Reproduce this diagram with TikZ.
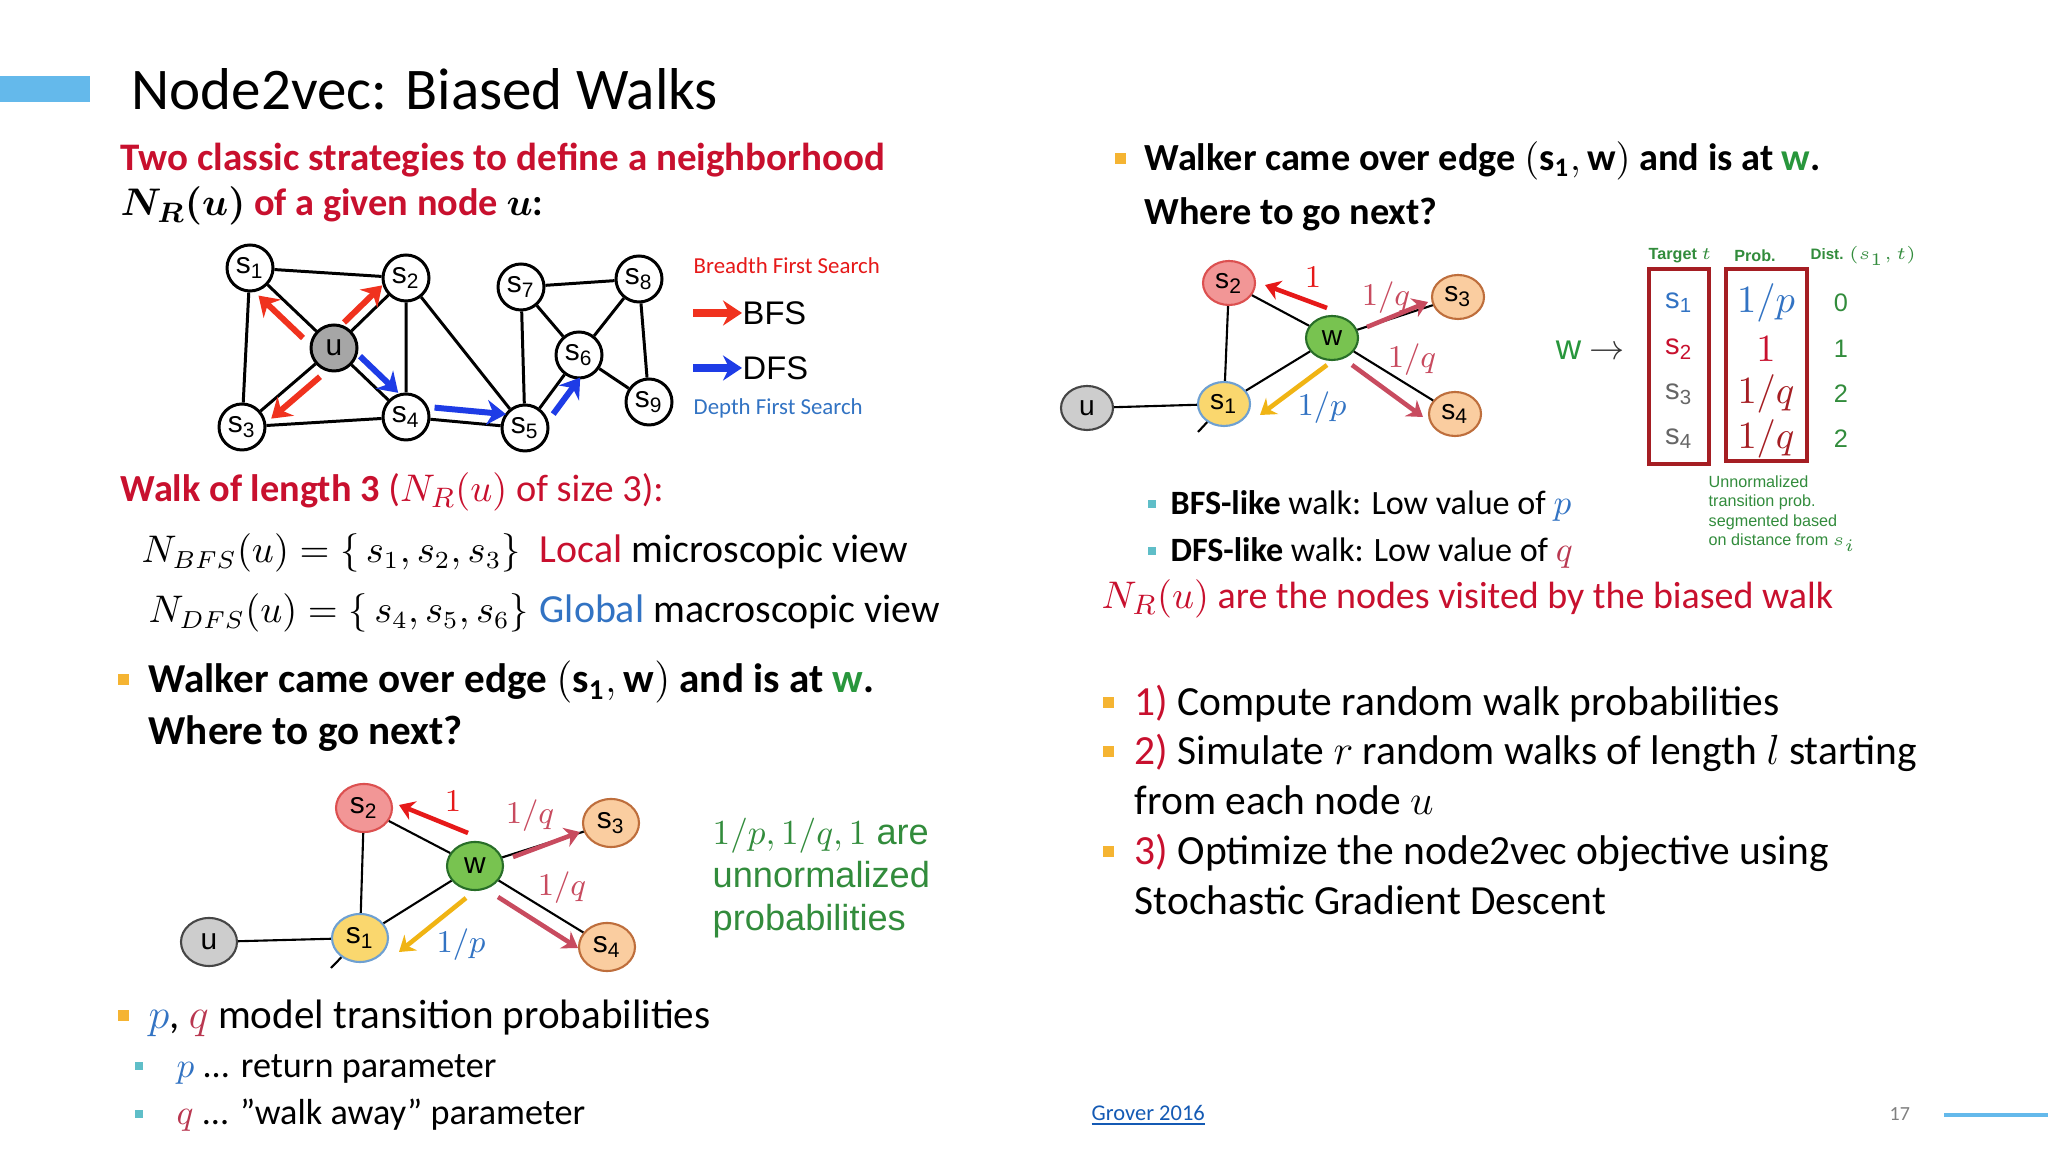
\documentclass[tikz,border=0pt]{standalone}
\usepackage{fontspec}
\usepackage{amsmath,bm}
\setmainfont{Carlito}
\newfontfamily\arial{Liberation Sans}
\usetikzlibrary{arrows.meta,shapes.geometric,calc}
\definecolor{accent}{RGB}{100,185,235}
\definecolor{hdred}{RGB}{200,16,46}
\definecolor{bfsred}{RGB}{240,50,30}
\definecolor{dfsblue}{RGB}{30,60,230}
\definecolor{pblue}{RGB}{50,115,195}
\definecolor{qred}{RGB}{185,55,80}
\definecolor{wgreen}{RGB}{40,150,60}
\definecolor{notegreen}{RGB}{50,140,60}
\definecolor{bulorange}{RGB}{245,180,50}
\definecolor{bulteal}{RGB}{95,190,200}
\definecolor{linkblue}{RGB}{20,90,180}
\definecolor{boxred}{RGB}{165,30,35}
\definecolor{onered}{RGB}{230,25,25}
\definecolor{qarrow}{RGB}{200,75,95}
\definecolor{parrow}{RGB}{240,180,20}
\definecolor{s2fill}{RGB}{242,150,150}
\definecolor{s2rim}{RGB}{220,80,80}
\definecolor{wfill}{RGB}{120,195,80}
\definecolor{wrim}{RGB}{40,110,40}
\definecolor{s3fill}{RGB}{250,205,160}
\definecolor{s3rim}{RGB}{190,110,60}
\definecolor{s1fill}{RGB}{250,215,110}
\definecolor{s1rim}{RGB}{110,160,210}
\definecolor{ufill}{RGB}{205,205,205}
\definecolor{urim}{RGB}{70,70,70}
\newcommand\fsz[1]{\fontsize{#1}{#1}\selectfont}
\newcommand\sn[1]{s\textsubscript{#1}}

\begin{document}
\begin{tikzpicture}[x=0.1mm,y=-0.1mm,
  txt/.style={anchor=base west,inner sep=0pt},
  gnode/.style={circle,draw,line width=0.85pt,fill=white,minimum size=4.6mm,inner sep=0pt,font=\arial\fsz{8.5}},
  wnode/.style={ellipse,draw,line width=0.6pt,minimum width=5.6mm,minimum height=4.8mm,inner sep=0pt,font=\arial\fsz{8.5}},
  wsmall/.style={wnode,minimum width=5.2mm,minimum height=4.4mm,font=\arial\fsz{8}},
  gedge/.style={line width=0.85pt},
  wedge/.style={line width=0.6pt},
  walk/.style={line width=1.7pt,-{Stealth[length=1.9mm,width=2.5mm]}},
  pwalk/.style={line width=1.3pt,-{Stealth[length=1.5mm,width=2mm]}},
  bul/.style={fill=bulorange,inner sep=0pt,minimum size=1.1mm},
  subbul/.style={fill=bulteal,inner sep=0pt,minimum size=0.75mm},
  lbl/.style={inner sep=0pt,font=\fsz{9.5}},
]
\useasboundingbox (0,0) rectangle (2048,1152);
\fill[white] (0,0) rectangle (2048,1152);

% title
\fill[accent] (0,76) rectangle (90,102);
\node[txt,font=\fsz{16.8}] (title) at (131,110) {Node2vec: Biased Walks};

% left column
\node[txt,font=\bfseries\fsz{11.1},text=hdred] (hd1) at (120,171) {Two classic strategies to define a neighborhood};
\node[txt,font=\bfseries\fsz{10.9},text=hdred] (hd2) at (120,216) {\textcolor{black}{$\bm{N_R(u)}$} of a given node \textcolor{black}{$\bm{u}$:}};

% graph with BFS / DFS walks
\node[gnode] (s1) at (250,268) {\sn1};
\node[gnode] (s2) at (406,278) {\sn2};
\node[gnode,fill=gray!70] (u) at (334,348) {u};
\node[gnode] (s3) at (242,427) {\sn3};
\node[gnode] (s4) at (406,417) {\sn4};
\node[gnode] (s5) at (525,428) {\sn5};
\node[gnode] (s7) at (521,287) {\sn7};
\node[gnode] (s8) at (639,279) {\sn8};
\node[gnode] (s6) at (579,355) {\sn6};
\node[gnode] (s9) at (649,402) {\sn9};
\draw[gedge] (s1) -- (s2) (s1) -- (s3) (s1) -- (u) (u) -- (s2) (u) -- (s3) (u) -- (s4)
  (s2) -- (s4) (s2) -- (s5) (s3) -- (s4) (s4) -- (s5) (s5) -- (s7) (s5) -- (s6)
  (s7) -- (s8) (s7) -- (s6) (s8) -- (s6) (s8) -- (s9) (s6) -- (s9);
\draw[walk,bfsred] ($(u)!.25!(s1)+(-10,10)$) -- ($(u)!.78!(s1)+(-10,10)$);
\draw[walk,bfsred] ($(u)!.25!(s2)+(-8,-8)$) -- ($(u)!.78!(s2)+(-8,-8)$);
\draw[walk,bfsred] ($(u)!.25!(s3)+(9,9)$) -- ($(u)!.78!(s3)+(9,9)$);
\draw[walk,dfsblue] ($(u)!.25!(s4)+(8,-9)$) -- ($(u)!.78!(s4)+(8,-9)$);
\draw[walk,dfsblue] ($(s4)!.24!(s5)+(0,-12)$) -- ($(s4)!.84!(s5)+(0,-12)$);
\draw[walk,dfsblue] ($(s5)!.3!(s6)+(12,8)$) -- ($(s5)!.8!(s6)+(12,8)$);

% legend
\node[txt,font=\fsz{6.5},text=onered] (bfsname) at (693,274) {Breadth First Search};
\coordinate (bfsa) at (693,313);
\node[anchor=west,inner sep=0pt,font=\arial\fsz{9.3}] (bfs) at (742,313) {BFS};
\draw[walk,bfsred,line width=2pt] (bfsa) -- (bfs.west);
\coordinate (dfsa) at (693,368);
\node[anchor=west,inner sep=0pt,font=\arial\fsz{9.3}] (dfs) at (742,368) {DFS};
\draw[walk,dfsblue,line width=2pt] (dfsa) -- (dfs.west);
\node[txt,font=\fsz{6.5},text=pblue] (dfsname) at (693,415) {Depth First Search};

\node[txt,font=\fsz{10.9},text=hdred] (walk3) at (120,502) {\textbf{Walk of length 3} ($N_R(u)$ of size 3):};
\node[txt,font=\fsz{10.6}] (nbfs) at (141,563) {$N_{BFS}(u)=\{\,s_1,s_2,s_3\}$};
\node[txt,font=\fsz{11.35}] (local) at (539,563) {\textcolor{hdred}{Local} microscopic view};
\node[txt,font=\fsz{10.6}] (ndfs) at (148,623) {$N_{DFS}(u)=\{\,s_4,s_5,s_6\}$};
\node[txt,font=\fsz{11.35}] (global) at (539,623) {\textcolor{pblue}{Global} macroscopic view};

\node[bul] (b1) at (123,680) {};
\node[txt,font=\bfseries\fsz{11.7}] (walker) at (148,693) {Walker came over edge $(\mathbf{s_1},\mathbf{w})$ and is at \textcolor{wgreen}{$\mathbf{w}$}.};
\node[txt,font=\bfseries\fsz{11.7}] (next) at (148,745) {Where to go next?};

% biased walk from w (left)
\node[wnode,fill=ufill,draw=urim] (u2) at (209,942) {u};
\node[wnode,fill=s1fill,draw=s1rim] (s12) at (360,938) {\sn1};
\node[wnode,fill=s2fill,draw=s2rim] (s22) at (364,808) {\sn2};
\node[wnode,fill=wfill,draw=wrim] (w2) at (475,866) {w};
\node[wnode,fill=s3fill,draw=s3rim] (s32) at (611,823) {\sn3};
\node[wnode,fill=s3fill,draw=s3rim] (s42) at (607,947) {\sn4};
\coordinate (stub2) at (331,968);
\draw[wedge] (u2) -- (s12) (s12) -- (s22) (s22) -- (w2) (s12) -- (w2) (w2) -- (s32) (w2) -- (s42) (s12) -- (stub2);
\draw[pwalk,onered] ($(w2)+(-7,-33)$) -- ($(s22)+(35,-3)$);
\draw[pwalk,qarrow] ($(w2)+(38,-9)$) -- ($(s32)+(-31,9)$);
\draw[pwalk,qarrow] ($(w2)+(23,31)$) -- ($(s42)+(-29,1)$);
\draw[pwalk,parrow] ($(w2)+(-9,32)$) -- ($(s12)+(39,14)$);
\node[lbl,text=onered] (l1) at (453,801) {$1$};
\node[lbl,text=qarrow] (l2) at (530,816) {$1/q$};
\node[lbl,text=qarrow] (l3) at (562,888) {$1/q$};
\node[lbl,text=pblue] (l4) at (461,945) {$1/p$};

\node[txt,font=\arial\fsz{10.3},text=notegreen] (unn1) at (712,845) {$1/p,1/q,1$ are};
\node[txt,font=\arial\fsz{10.3},text=notegreen] (unn2) at (712,888) {unnormalized};
\node[txt,font=\arial\fsz{10.3},text=notegreen] (unn3) at (712,931) {probabilities};

\node[bul] (b2) at (123,1016) {};
\node[txt,font=\fsz{11.7}] (pq) at (148,1029) {\textcolor{pblue}{$p$}, \textcolor{qred}{$q$} model transition probabilities};
\node[subbul] (b3) at (139,1066) {};
\node[txt,font=\fsz{10.3}] (ppar) at (176,1077) {\textcolor{pblue}{$p$} ... return parameter};
\node[subbul] (b4) at (139,1114) {};
\node[txt,font=\fsz{10.3}] (qpar) at (176,1125) {\textcolor{qred}{$q$} ... ”walk away” parameter};

% right column
\node[bul] (b5) at (1120,159) {};
\node[txt,font=\bfseries\fsz{10.9}] (walkerR) at (1144,171) {Walker came over edge $(\mathbf{s_1},\mathbf{w})$ and is at \textcolor{wgreen}{$\mathbf{w}$}.};
\node[txt,font=\bfseries\fsz{10.9}] (nextR) at (1144,225) {Where to go next?};

% biased walk from w (right)
\node[wsmall,fill=ufill,draw=urim] (u3) at (1087,408) {u};
\node[wsmall,fill=s1fill,draw=s1rim] (s13) at (1224,404) {\sn1};
\node[wsmall,fill=s2fill,draw=s2rim] (s23) at (1229,283) {\sn2};
\node[wsmall,fill=wfill,draw=wrim] (w3) at (1332,338) {w};
\node[wsmall,fill=s3fill,draw=s3rim] (s33) at (1458,297) {\sn3};
\node[wsmall,fill=s3fill,draw=s3rim] (s43) at (1455,414) {\sn4};
\coordinate (stub3) at (1198,432);
\draw[wedge] (u3) -- (s13) (s13) -- (s23) (s23) -- (w3) (s13) -- (w3) (w3) -- (s33) (w3) -- (s43) (s13) -- (stub3);
\draw[pwalk,onered] ($(w3)+(-5,-30)$) -- ($(s23)+(36,2)$);
\draw[pwalk,qarrow] ($(w3)+(35,-11)$) -- ($(s33)+(-30,5)$);
\draw[pwalk,qarrow] ($(w3)+(20,27)$) -- ($(s43)+(-32,3)$);
\draw[pwalk,parrow] ($(w3)+(-5,27)$) -- ($(s13)+(36,11)$);
\node[lbl,text=onered] (r1) at (1313,277) {$1$};
\node[lbl,text=qarrow] (r2) at (1386,298) {$1/q$};
\node[lbl,text=qarrow] (r3) at (1412,360) {$1/q$};
\node[lbl,text=pblue] (r4) at (1322,408) {$1/p$};

% table of unnormalized probabilities
\node[font=\fsz{10},text=wgreen] (wto) at (1590,350) {{\arial w} \textcolor{black!80}{$\rightarrow$}};
\node[font=\arial\bfseries\fsz{4.6},text=notegreen] (thd1) at (1680,256) {Target $t$};
\node[font=\arial\bfseries\fsz{4.6},text=notegreen] (thd2) at (1755,256) {Prob.};
\node[anchor=west,inner sep=0pt,font=\arial\bfseries\fsz{4.3},text=notegreen] (thd3) at (1810,256) {Dist. $(s_1,t)$};
\draw[boxred,line width=1.1pt] (1649,269) rectangle (1709,464);
\draw[boxred,line width=1.1pt] (1726,269) rectangle (1807,461);
\foreach \i/\y/\c/\pc/\pr/\d in {1/303/pblue/pblue/{1/p}/0,2/349/hdred/hdred/1/1,3/394/black!60/boxred/{1/q}/2,4/439/black!60/boxred/{1/q}/2}{
  \node[font=\arial\fsz{8.3},text=\c] (t\i) at (1679,\y) {\sn{\i}};
  \node[font=\fsz{10.5},text=\pc] (p\i) at (1766,\y) {$\pr$};
  \node[font=\arial\fsz{7.2},text=notegreen] (d\i) at (1841,\y) {\d};
}
\node[txt,font=\arial\fsz{4.6},text=notegreen] (note1) at (1708,488) {Unnormalized};
\node[txt,font=\arial\fsz{4.6},text=notegreen] (note2) at (1708,507) {transition prob.};
\node[txt,font=\arial\fsz{4.6},text=notegreen] (note3) at (1708,527) {segmented based};
\node[txt,font=\arial\fsz{4.6},text=notegreen] (note4) at (1708,546) {on distance from $s_i$};

\node[subbul] (b6) at (1152,504) {};
\node[txt,font=\fsz{9.7}] (bfslike) at (1170,515) {\textbf{BFS-like} walk: Low value of \textcolor{pblue}{$p$}};
\node[subbul] (b7) at (1152,551) {};
\node[txt,font=\fsz{9.7}] (dfslike) at (1170,562) {\textbf{DFS-like} walk: Low value of \textcolor{qred}{$q$}};
\node[txt,font=\fsz{10.8},text=hdred] (nrvisit) at (1101,609) {$N_R(u)$ are the nodes visited by the biased walk};

\node[bul] (b8) at (1108,703) {};
\node[txt,font=\fsz{11.8}] (st1) at (1134,716) {\textcolor{hdred}{1)} Compute random walk probabilities};
\node[bul] (b9) at (1108,752) {};
\node[txt,font=\fsz{11.8}] (st2) at (1134,765) {\textcolor{hdred}{2)} Simulate $r$ random walks of length $l$ starting};
\node[txt,font=\fsz{11.8}] (st2b) at (1134,815) {from each node $u$};
\node[bul] (b10) at (1108,852) {};
\node[txt,font=\fsz{11.8}] (st3) at (1134,865) {\textcolor{hdred}{3)} Optimize the node2vec objective using};
\node[txt,font=\fsz{11.8}] (st3b) at (1134,915) {Stochastic Gradient Descent};

% footer
\node[txt,font=\fsz{6.4},text=linkblue] (cite) at (1091,1120) {\underline{Grover 2016}};
\node[txt,font=\fsz{5.7},text=gray] (pageno) at (1889,1121) {17};
\fill[accent] (1944,1113) rectangle (2048,1117);
\end{tikzpicture}
\end{document}
